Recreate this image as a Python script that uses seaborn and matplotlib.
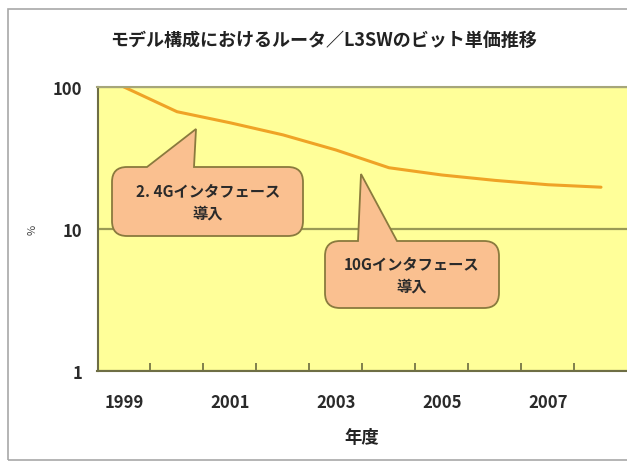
import matplotlib
matplotlib.use("Agg")
import matplotlib.pyplot as plt
import seaborn as sns
import pandas as pd
from matplotlib.path import Path
from matplotlib.patches import PathPatch, Rectangle

# Bit cost of routers / L3 switches in the model configuration (1999 = 100%)
years = [1999, 2000, 2001, 2002, 2003, 2004, 2005, 2006, 2007, 2008]
cost_pct = [100, 67, 56, 46, 36, 27, 24, 22, 20.5, 19.7]
year_ticks = [1999, 2001, 2003, 2005, 2007]
year_tick_labels = ["1999", "2001", "2003", "2005", "2007"]
y_ticks = [1, 10, 100]
y_tick_labels = ["1", "10", "100"]
title_text = "モデル構成におけるルータ／L3SWのビット単価推移"
x_title = "年度"
y_title = "%"
callout_texts = ["2. 4Gインタフェース\n導入", "10Gインタフェース\n導入"]

sns.set_style("white")
plt.rcParams["font.family"] = ["Noto Sans CJK JP", "DejaVu Sans"]

W, H = 627, 464
fig = plt.figure(figsize=(W / 100, H / 100), dpi=100)
fig.patch.set_facecolor("white")


def fx(px):
    return px / W


def fy(py):
    return 1 - py / H


# outer chart frame (runs off the right edge)
fig.patches.append(Rectangle((fx(8), fy(461)), fx(700), (461 - 10) / H,
                             transform=fig.transFigure, fill=False,
                             edgecolor="#a8a8a8", lw=1.2, zorder=0))

ax = fig.add_axes([fx(97.5), fy(372), 530 / W, (372 - 88) / H])
ax.set_facecolor("#FFFF99")

df = pd.DataFrame({"year": years, "pct": cost_pct})
sns.lineplot(data=df, x="year", y="pct", ax=ax, color="#EFA326",
             linewidth=2.2, legend=False)

ax.set_yscale("log")
ax.set_ylim(1, 100)
ax.set_xlim(years[0] - 0.5, years[-1] + 0.5)

ax.set_yticks(y_ticks)
ax.set_yticklabels(y_tick_labels)
ax.yaxis.set_minor_locator(matplotlib.ticker.NullLocator())
ax.tick_params(axis="y", length=0, pad=11, labelsize=12, colors="#2a2a2a")
for lbl in ax.get_yticklabels():
    lbl.set_fontweight("bold")

ax.set_xticks(year_ticks)
ax.set_xticklabels(year_tick_labels, fontweight="bold")
ax.set_xticks([y + 0.5 for y in years[:-1]], minor=True)
ax.tick_params(axis="x", which="major", length=0, pad=16, labelsize=12,
               colors="#2a2a2a")
ax.tick_params(axis="x", which="minor", direction="in", length=6,
               width=1.2, color="#6b6b40", bottom=True)

ax.grid(axis="y", which="major", color="#9a9a55", lw=1.6)
ax.grid(axis="x", visible=False)
ax.set_xlabel("")
ax.set_ylabel("")

for side in ["left", "bottom"]:
    ax.spines[side].set_color("#6e6e45")
    ax.spines[side].set_linewidth(1.5)
ax.spines["top"].set_color("#a6a67a")
ax.spines["top"].set_linewidth(1.5)
ax.spines["right"].set_visible(False)

fig.text(fx(324), fy(40), title_text, ha="center", va="center",
         fontsize=13, fontweight="bold", color="#222222")
fig.text(fx(362), fy(438), x_title, ha="center", va="center",
         fontsize=12.5, fontweight="bold", color="#222222")
fig.text(fx(33), fy(230), y_title, ha="center", va="center",
         fontsize=8, rotation=90, color="#444444")


def callout(x0, y0, x1, y1, r, bx0, bx1, tip):
    pts = [
        (x0 + r, y0), (bx0, y0), tip, (bx1, y0), (x1 - r, y0),
        (x1, y0), (x1, y0 + r),
        (x1, y1 - r),
        (x1, y1), (x1 - r, y1),
        (x0 + r, y1),
        (x0, y1), (x0, y1 - r),
        (x0, y0 + r),
        (x0, y0), (x0 + r, y0),
        (x0 + r, y0),
    ]
    codes = [Path.MOVETO, Path.LINETO, Path.LINETO, Path.LINETO, Path.LINETO,
             Path.CURVE3, Path.CURVE3,
             Path.LINETO,
             Path.CURVE3, Path.CURVE3,
             Path.LINETO,
             Path.CURVE3, Path.CURVE3,
             Path.LINETO,
             Path.CURVE3, Path.CURVE3,
             Path.CLOSEPOLY]
    verts = [(fx(px), fy(py)) for px, py in pts]
    fig.patches.append(PathPatch(Path(verts, codes), transform=fig.transFigure,
                                 facecolor="#FAC090", edgecolor="#8a7a3e",
                                 lw=1.3, zorder=3))


callout(112, 168, 303, 237, 15, 147, 194, (196, 130))
callout(325, 242, 499, 309, 15, 358, 397, (361, 175))

fig.text(fx(208), fy(202), callout_texts[0], ha="center", va="center",
         fontsize=11, fontweight="bold", color="#2a2a2a",
         linespacing=1.5, zorder=4)
fig.text(fx(412), fy(275), callout_texts[1], ha="center", va="center",
         fontsize=11, fontweight="bold", color="#2a2a2a",
         linespacing=1.5, zorder=4)

fig.savefig("out.png", dpi=100)
